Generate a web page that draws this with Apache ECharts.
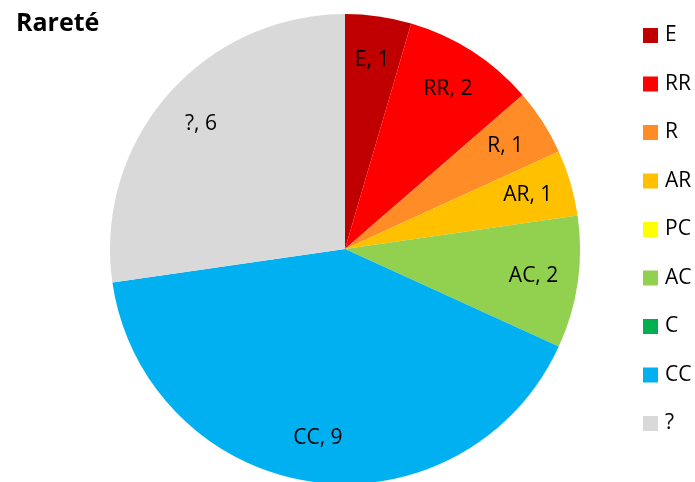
<!DOCTYPE html>
<html>
<head>
<meta charset="utf-8">
<script src="https://cdn.jsdelivr.net/npm/echarts@6/dist/echarts.min.js"></script>
<style>
  html, body { margin: 0; padding: 0; background: #fff; }
  #chart { width: 695px; height: 482px; }
</style>
</head>
<body>
<div id="chart"></div>
<script>
// Rarity categories and counts
const categories = ['E', 'RR', 'R', 'AR', 'PC', 'AC', 'C', 'CC', '?'];
const counts = [1, 2, 1, 1, 0, 2, 0, 9, 6];
const colors = ['#C00000', '#FF0000', '#FF8C26', '#FFC000', '#FFFF00', '#92D050', '#00B050', '#00B0F0', '#D9D9D9'];

const FONT = '"Open Sans", "Liberation Sans", sans-serif';
const data = categories.map((name, i) => ({ name, value: counts[i], itemStyle: { color: colors[i] } }));

const chart = echarts.init(document.getElementById('chart'), null, { renderer: 'canvas' });
chart.setOption({
  animation: false,
  title: {
    text: 'Rareté',
    left: 11,
    top: 6,
    textStyle: { fontFamily: FONT, fontSize: 25, fontWeight: 'bold', color: '#000' }
  },
  legend: {
    orient: 'vertical',
    left: 643,
    top: 25,
    padding: 0,
    itemWidth: 15,
    itemHeight: 15,
    itemGap: 27.5,
    icon: 'rect',
    data: categories,
    textStyle: { fontFamily: FONT, fontSize: 21, color: '#000', padding: [0, 0, 0, 2] }
  },
  series: [
    {
      type: 'pie',
      center: [345, 249],
      radius: [0, 235],
      startAngle: 90,
      clockwise: true,
      data: data,
      label: { show: false },
      labelLine: { show: false },
      itemStyle: { borderWidth: 0 },
      emphasis: { disabled: true }
    },
    {
      // label ring: places the value labels toward the outer part of each slice
      type: 'pie',
      center: [345, 249],
      radius: [140, 235],
      startAngle: 90,
      clockwise: true,
      silent: true,
      data: data.map(d => ({ name: d.name, value: d.value, itemStyle: { color: 'rgba(0,0,0,0)' } })),
      label: {
        show: true,
        position: 'inside',
        fontFamily: FONT,
        fontSize: 21,
        color: '#000',
        formatter: p => p.value > 0 ? p.name + ', ' + p.value : ''
      },
      labelLine: { show: false },
      emphasis: { disabled: true }
    }
  ]
});
</script>
</body>
</html>
